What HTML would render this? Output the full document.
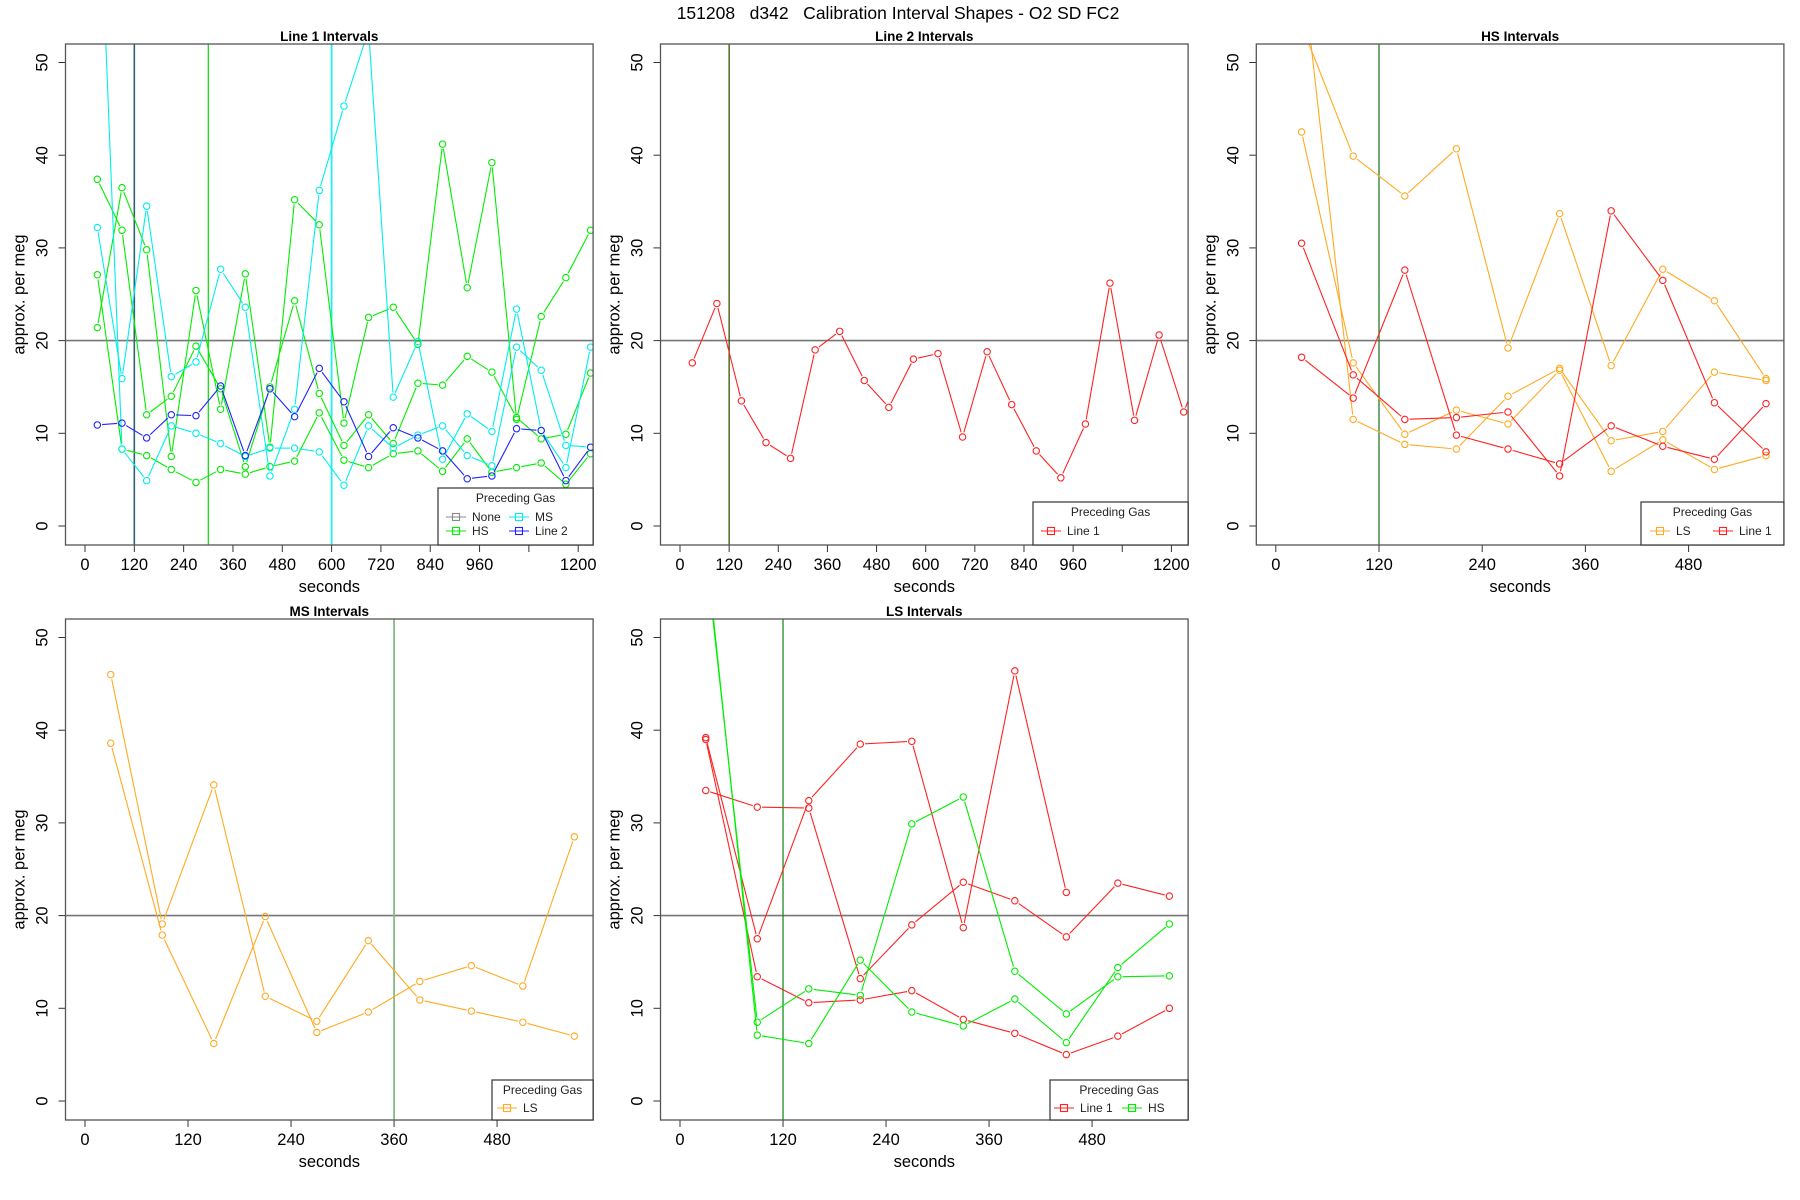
<!DOCTYPE html>
<html><head><meta charset="utf-8"><title>Calibration Interval Shapes</title>
<style>html,body{margin:0;padding:0;background:#fff;}svg{display:block;font-family:"Liberation Sans",sans-serif;}</style>
</head><body>
<svg id="chart" width="1800" height="1200" viewBox="0 0 1800 1200" xmlns="http://www.w3.org/2000/svg">
<rect x="0" y="0" width="1800" height="1200" fill="#fff"/>
<text x="898" y="19" font-size="17.5" text-anchor="middle" fill="#000" style="white-space:pre" xml:space="preserve">151208   d342   Calibration Interval Shapes - O2 SD FC2</text>
</svg>
<script>
const secsLong = [30,90,150,210,270,330,390,450,510,570,630,690,750,810,870,930,990,1050,1110,1170,1230,1290];
const secsShort = [30,90,150,210,270,330,390,450,510,570];
const yTicks = [0,10,20,30,40,50];
const xTicksLong = [0,120,240,360,480,600,720,840,960,1080,1200];
const xTickLabelsLong = ["0","120","240","360","480","600","720","840","960","","1200"];
const xTicksShort = [0,120,240,360,480];
const xTickLabelsShort = ["0","120","240","360","480"];

// Panel 1: Line 1 Intervals
const p1HSa = [21.4,36.5,29.8,7.5,25.4,12.6,27.2,8.5,35.2,32.5,11.1,22.5,23.6,19.6,41.2,25.7,39.2,11.5,22.6,26.8,31.9,28];
const p1HSb = [37.4,31.9,12.0,14.0,19.4,14.8,6.4,15.0,24.3,14.3,8.7,12.0,8.9,15.4,15.2,18.3,16.6,11.7,9.4,9.9,16.5,20];
const p1HSc = [27.1,8.3,7.6,6.1,4.7,6.1,5.6,6.4,7.0,12.2,7.1,6.3,7.8,8.1,5.9,9.4,5.8,6.3,6.8,4.5,7.8,8];
const p1MSa = [32.2,15.9,34.5,16.1,17.7,27.7,23.6,5.4,12.6,36.2,45.3,53.5,13.9,19.9,7.2,12.1,10.2,23.4,10.3,6.3,19.3,20];
const p1MSb = [75,8.3,4.9,10.8,10.0,8.9,7.5,8.4,8.4,8.0,4.4,10.8,8.4,9.8,10.8,7.6,6.5,19.3,16.8,8.7,8.5,8];
const p1Line2 = [10.9,11.1,9.5,12.0,11.9,15.1,7.6,14.8,11.8,17.0,13.4,7.5,10.6,9.5,8.1,5.1,5.4,10.5,10.3,4.9,8.5,null];
// Panel 2: Line 2 Intervals
const p2Line1 = [17.6,24.0,13.5,9.0,7.3,19.0,21.0,15.7,12.8,18.0,18.6,9.6,18.8,13.1,8.1,5.2,11.0,26.2,11.4,20.6,12.3,19];
// Panel 3: HS Intervals
const p3LSa = [54,39.9,35.6,40.7,19.2,33.7,17.3,27.7,24.3,15.9];
const p3LSb = [42.5,17.6,9.9,12.5,11.0,16.8,5.9,9.3,6.1,7.6];
const p3LSc = [61,11.5,8.8,8.3,14.0,17.0,9.2,10.2,16.6,15.7];
const p3Line1a = [30.5,16.3,11.5,11.7,12.3,5.4,34.0,26.5,13.3,8.0];
const p3Line1b = [18.2,13.8,27.6,9.8,8.3,6.7,10.8,8.6,7.2,13.2];
// Panel 4: MS Intervals
const p4LSa = [46.0,19.1,34.1,11.3,8.6,17.3,10.9,9.7,8.5,7.0];
const p4LSb = [38.6,17.9,6.2,19.9,7.4,9.6,12.9,14.6,12.4,28.5];
// Panel 5: LS Intervals
const p5Line1a = [33.5,31.7,31.6,13.2,19.0,23.6,21.6,17.7,23.5,22.1];
const p5Line1b = [39.2,17.5,32.4,38.5,38.8,18.7,46.4,22.5,null,null];
const p5Line1c = [39.0,13.4,10.6,10.9,11.9,8.8,7.3,5.0,7.0,10.0];
const p5HSa = [59,8.5,12.1,11.4,29.9,32.8,14.0,9.4,13.4,13.5];
const p5HSb = [60,7.1,6.2,15.2,9.6,8.1,11.0,6.3,14.4,19.1];

const NS = "http://www.w3.org/2000/svg";
const svg = document.getElementById('chart');
function mk(tag, attrs, parent){
  const e = document.createElementNS(NS, tag);
  for (const k in attrs) e.setAttribute(k, attrs[k]);
  (parent||svg).appendChild(e);
  return e;
}
const PW = 527.6, PH = 501;
function makePanel(id, left, top, rate, title){
  const p = {left, top, right:left+PW, bottom:top+PH, rate};
  p.x = s => left + 19.5 + s*rate;
  p.y = v => top + 482 - v*9.27;
  const cp = mk('clipPath', {id:'clip'+id});
  mk('rect', {x:left, y:top, width:PW, height:PH}, cp);
  const g = mk('g', {});
  
  
  p.g = g;
  p.plot = mk('g', {'clip-path':'url(#clip'+id+')'}, g);
  const t = mk('text', {x:left+PW/2, y:top-3, 'font-size':13.5, 'font-weight':'bold', 'text-anchor':'middle'}, g);
  t.textContent = title;
  
  
  yTicks.forEach(v => {
    const yy = p.y(v);
    mk('line', {x1:left-7, x2:left, y1:yy, y2:yy, stroke:'#333', 'stroke-width':1}, g);
    const tl = mk('text', {transform:`translate(${left-18},${yy}) rotate(-90)`, 'font-size':16.5, 'text-anchor':'middle'}, g);
    tl.textContent = String(v);
    
    
  });
  const yl = mk('text', {transform:`translate(${left-41},${top+PH/2}) rotate(-90)`, 'font-size':16.5, 'text-anchor':'middle'}, g);
  yl.textContent = 'approx. per meg';
  
  
  const xl = mk('text', {x:left+PW/2, y:top+PH+47, 'font-size':16.5, 'text-anchor':'middle'}, g);
  xl.textContent = 'seconds';
  
  
  return p;
}
function xAxis(p, ticks, labels){
  ticks.forEach((s,i) => {
    const xx = p.x(s);
    if (xx > p.right+1) return;
    mk('line', {x1:xx, x2:xx, y1:p.bottom, y2:p.bottom+7, stroke:'#333', 'stroke-width':1}, p.g);
    if (labels[i]) {
      const tl = mk('text', {x:xx, y:p.bottom+25, 'font-size':16.5, 'text-anchor':'middle'}, p.g);
      tl.textContent = labels[i];
      
      
    }
  });
}
function refLines(p, vs){
  const h = mk('line', {x1:p.left, x2:p.right, y1:p.y(20), y2:p.y(20), stroke:'#777', 'stroke-width':1.6}, p.plot);
  
  
  vs.forEach(v => {
    const l = mk('line', {x1:p.x(v[0]), x2:p.x(v[0]), y1:p.top, y2:p.bottom, stroke:v[1], 'stroke-width':v[2]||1.2}, p.plot);
    
    
  });
}
function series(p, xs, vals, color, name){
  const g = mk('g', {}, p.plot);
  
  
  const pts = [];
  xs.forEach((s,i) => { if (vals[i] !== null && vals[i] !== undefined) pts.push([p.x(s), p.y(vals[i])]); else pts.push(null); });
  const gap = 4.8;
  for (let i=0;i<pts.length-1;i++){
    const a = pts[i], b = pts[i+1];
    if (!a || !b) continue;
    const dx = b[0]-a[0], dy = b[1]-a[1], L = Math.hypot(dx,dy);
    if (L < 2*gap+1) continue;
    const ux = dx/L, uy = dy/L;
    mk('line', {x1:a[0]+ux*gap, y1:a[1]+uy*gap, x2:b[0]-ux*gap, y2:b[1]-uy*gap, stroke:color, 'stroke-width':1.1}, g);
  }
  pts.forEach(pt => {
    if (!pt) return;
    const c = mk('circle', {cx:pt[0], cy:pt[1], r:3.2, fill:'none', stroke:color, 'stroke-width':1.1}, g);
    
    
  });
}
function box(p){
  mk('rect', {x:p.left, y:p.top, width:PW, height:PH, fill:'none', stroke:'#555', 'stroke-width':1.3}, p.g);
}
function legend(p, lx, ly, entries){
  const lg = mk('g', {}, p.g);
  
  
  const w = p.right - lx, h = p.bottom - ly;
  mk('rect', {x:lx, y:ly, width:w, height:h, fill:'#fff', stroke:'#333', 'stroke-width':1.2}, lg);
  const t = mk('text', {x:lx+w/2, y:ly+14, 'font-size':12, 'text-anchor':'middle', fill:'#222'}, lg);
  t.textContent = 'Preceding Gas';
  
  
  entries.forEach(en => {
    const [sx, ty, label, color] = en;
    const eg = mk('g', {}, lg);
    
    
    mk('line', {x1:sx-10, x2:sx+10, y1:ty-4, y2:ty-4, stroke:color, 'stroke-width':1.1}, eg);
    mk('rect', {x:sx-3.5, y:ty-7.5, width:7, height:7, fill:'none', stroke:color, 'stroke-width':1.1}, eg);
    const tt = mk('text', {x:sx+16, y:ty, 'font-size':12, fill:'#222'}, eg);
    tt.textContent = label;
  });
}
const GREEN='#00ee00', CYAN='#00eeee', BLUE='#2222ff', RED='#ff2222', ORANGE='#ffaa22';

const P1 = makePanel(1, 65.5, 44, 0.411, 'Line 1 Intervals');
refLines(P1, [[120,'#2f6077',1.6],[300,'#00dd00',1.2],[600,'#22eeee',1.8]]);
series(P1, secsLong, p1HSa, GREEN, 'series-hs-a');
series(P1, secsLong, p1HSb, GREEN, 'series-hs-b');
series(P1, secsLong, p1HSc, GREEN, 'series-hs-c');
series(P1, secsLong, p1MSa, CYAN, 'series-ms-a');
series(P1, secsLong, p1MSb, CYAN, 'series-ms-b');
series(P1, secsLong, p1Line2, BLUE, 'series-line2');
xAxis(P1, xTicksLong, xTickLabelsLong); box(P1);
legend(P1, 438, 488, [[456,521,'None','#888'],[519,521,'MS',CYAN],[456,535,'HS',GREEN],[519,535,'Line 2',BLUE]]);

const P2 = makePanel(2, 660.5, 44, 0.4095, 'Line 2 Intervals');
refLines(P2, [[120,'#3a5200',1.3]]);
series(P2, secsLong, p2Line1, RED, 'series-line1');
xAxis(P2, xTicksLong, xTickLabelsLong); box(P2);
legend(P2, 1033, 502, [[1051,535,'Line 1',RED]]);

const P3 = makePanel(3, 1256.3, 44, 0.86, 'HS Intervals');
refLines(P3, [[120,'#2a7a2a',1.3]]);
series(P3, secsShort, p3LSa, ORANGE, 'series-ls-a');
series(P3, secsShort, p3LSb, ORANGE, 'series-ls-b');
series(P3, secsShort, p3LSc, ORANGE, 'series-ls-c');
series(P3, secsShort, p3Line1a, RED, 'series-line1-a');
series(P3, secsShort, p3Line1b, RED, 'series-line1-b');
xAxis(P3, xTicksShort, xTickLabelsShort); box(P3);
legend(P3, 1641, 502, [[1660,535,'LS',ORANGE],[1723,535,'Line 1',RED]]);

const P4 = makePanel(4, 65.5, 619, 0.8585, 'MS Intervals');
refLines(P4, [[360,'#86b886',1.8]]);
series(P4, secsShort, p4LSa, ORANGE, 'series-ls-a');
series(P4, secsShort, p4LSb, ORANGE, 'series-ls-b');
xAxis(P4, xTicksShort, xTickLabelsShort); box(P4);
legend(P4, 492, 1080, [[507,1112,'LS',ORANGE]]);

const P5 = makePanel(5, 660.5, 619, 0.8585, 'LS Intervals');
refLines(P5, [[120,'#228b22',1.3]]);
series(P5, secsShort, p5Line1a, RED, 'series-line1-a');
series(P5, secsShort, p5Line1b, RED, 'series-line1-b');
series(P5, secsShort, p5Line1c, RED, 'series-line1-c');
series(P5, secsShort, p5HSa, GREEN, 'series-hs-a');
series(P5, secsShort, p5HSb, GREEN, 'series-hs-b');
xAxis(P5, xTicksShort, xTickLabelsShort); box(P5);
legend(P5, 1050, 1080, [[1064,1112,'Line 1',RED],[1132,1112,'HS',GREEN]]);
</script>
</body></html>
